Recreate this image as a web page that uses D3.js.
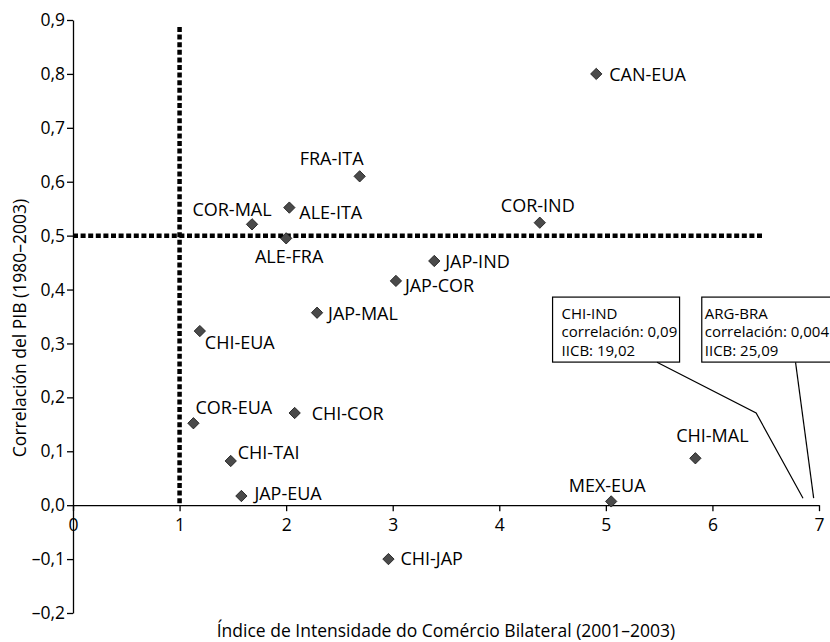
<!DOCTYPE html>
<html>
<head>
<meta charset="utf-8">
<script src="https://cdn.jsdelivr.net/npm/d3@7"></script>
<style>
  html, body { margin: 0; padding: 0; background: #fff; }
  svg { display: block; }
  text { font-family: "Open Sans", "Noto Sans", sans-serif; fill: #000; }
</style>
</head>
<body>
<svg id="chart" width="830" height="642"></svg>
<script>
// ---- data ----
const pairs = ["CAN-EUA","COR-IND","FRA-ITA","ALE-ITA","COR-MAL","ALE-FRA","JAP-IND","JAP-COR","JAP-MAL","CHI-EUA","COR-EUA","CHI-COR","CHI-TAI","JAP-EUA","CHI-JAP","MEX-EUA","CHI-MAL"];
const iicb  = [4.91, 4.38, 2.69, 2.03, 1.68, 2.00, 3.39, 3.03, 2.29, 1.19, 1.13, 2.08, 1.48, 1.58, 2.96, 5.05, 5.84];
const corr  = [0.800, 0.524, 0.610, 0.552, 0.521, 0.495, 0.453, 0.416, 0.357, 0.323, 0.152, 0.171, 0.082, 0.017, -0.100, 0.007, 0.087];
const xTicks = [0, 1, 2, 3, 4, 5, 6, 7];
const yTicks = [-0.2, -0.1, 0.0, 0.1, 0.2, 0.3, 0.4, 0.5, 0.6, 0.7, 0.8, 0.9];
const outPairs = ["CHI-IND", "ARG-BRA"];
const outCorr  = ["0,09", "0,004"];
const outIicb  = ["19,02", "25,09"];
const xTitle = "Índice de Intensidade do Comércio Bilateral (2001–2003)";
const yTitle = "Correlación del PIB (1980–2003)";

// ---- layout ----
const svg = d3.select("#chart");
const x = d3.scaleLinear().domain([0, 7]).range([73, 819]);
const y = d3.scaleLinear().domain([-0.2, 0.9]).range([613, 20]);
const fmt = v => (v < 0 ? "–" : "") + Math.abs(v).toFixed(1).replace(".", ",");

// label placement per pair: [anchor, dx, dy]
const place = {
  "CAN-EUA": ["start", 13, 0], "COR-IND": ["middle", -2, -18], "FRA-ITA": ["middle", -28, -18],
  "ALE-ITA": ["start", 10, 4], "COR-MAL": ["middle", -20, -15], "ALE-FRA": ["middle", 3, 18],
  "JAP-IND": ["start", 11, 0], "JAP-COR": ["start", 9, 4], "JAP-MAL": ["start", 11, 0],
  "CHI-EUA": ["start", 5, 11], "COR-EUA": ["start", 2, -16], "CHI-COR": ["start", 17, 0],
  "CHI-TAI": ["start", 7, -9], "JAP-EUA": ["start", 13, -3], "CHI-JAP": ["start", 12, -1],
  "MEX-EUA": ["middle", -4, -16], "CHI-MAL": ["middle", 17, -23]
};

// axes
const yAxis = d3.axisLeft(y).tickValues(yTicks).tickFormat(fmt).tickSize(6).tickSizeOuter(0);
const gy = svg.append("g").attr("transform", `translate(${x(0)},0)`).call(yAxis);
gy.select(".domain").attr("stroke", "#000").attr("stroke-width", 1.3);
gy.selectAll(".tick line").attr("stroke", "#000").attr("stroke-width", 1.3);
gy.selectAll(".tick text").attr("font-size", 17.5).attr("x", -8).attr("fill", "#000")
  .style("font-family", '"Open Sans", sans-serif');

const xAxis = d3.axisBottom(x).tickValues(xTicks).tickFormat(d3.format("d")).tickSize(6).tickSizeOuter(0);
const gx = svg.append("g").attr("transform", `translate(0,${y(0)})`).call(xAxis);
gx.select(".domain").attr("stroke", "#000").attr("stroke-width", 1.3);
gx.selectAll(".tick line").attr("stroke", "#000").attr("stroke-width", 1.3);
gx.selectAll(".tick text").attr("font-size", 17.5).attr("y", 13).attr("fill", "#000")
  .style("font-family", '"Open Sans", sans-serif');

// reference dotted lines
svg.append("line")
  .attr("x1", x(1)).attr("x2", x(1)).attr("y1", y(0.887)).attr("y2", y(0))
  .attr("stroke", "#000").attr("stroke-width", 4.5).attr("stroke-dasharray", "5,2.6");
svg.append("line")
  .attr("x1", x(0)).attr("x2", x(6.48)).attr("y1", y(0.5)).attr("y2", y(0.5))
  .attr("stroke", "#000").attr("stroke-width", 4.5).attr("stroke-dasharray", "5,2.6");

// points
const pts = pairs.map((p, i) => ({ p, xv: iicb[i], yv: corr[i] }));
const diamond = d3.symbol().type(d3.symbolSquare).size(64);
svg.append("g").selectAll("path").data(pts).join("path")
  .attr("d", diamond)
  .attr("transform", d => `translate(${x(d.xv)},${y(d.yv)}) rotate(45)`)
  .attr("fill", "#4a4a4a").attr("stroke", "#1a1a1a").attr("stroke-width", 0.8);

svg.append("g").selectAll("text").data(pts).join("text")
  .attr("x", d => x(d.xv) + place[d.p][1])
  .attr("y", d => y(d.yv) + place[d.p][2])
  .attr("text-anchor", d => place[d.p][0])
  .attr("dominant-baseline", "central")
  .attr("font-size", 18)
  .text(d => d.p);

// off-scale annotations
const boxes = [
  { left: 4.5, top: 0.386, w: 127, tx: 9, leader: [[5.48, 0.265], [6.41, 0.171], [6.85, 0.013]] },
  { left: 5.9, top: 0.386, w: 140, tx: 3,  leader: [[6.78, 0.265], [6.95, 0.013]] }
];
boxes.forEach((b, i) => {
  const bx = x(b.left), by = y(b.top), bh = 65;
  const g = svg.append("g");
  g.append("rect").attr("x", bx).attr("y", by).attr("width", b.w).attr("height", bh)
    .attr("fill", "#fff").attr("stroke", "#000").attr("stroke-width", 1.2);
  const lines = [outPairs[i], "correlación: " + outCorr[i], "IICB: " + outIicb[i]];
  g.selectAll("text").data(lines).join("text")
    .attr("x", bx + b.tx).attr("y", (d, k) => by + 15.5 + k * 18.5)
    .attr("dominant-baseline", "central").attr("font-size", 15)
    .text(d => d);
  g.append("path")
    .attr("d", d3.line().x(d => x(d[0])).y(d => y(d[1]))(b.leader))
    .attr("fill", "none").attr("stroke", "#000").attr("stroke-width", 1.2);
});

// axis titles
svg.append("text").attr("x", 446).attr("y", 637)
  .attr("text-anchor", "middle")
  .attr("font-size", 17.5).text(xTitle);
svg.append("text").attr("transform", "translate(19,328) rotate(-90)")
  .attr("text-anchor", "middle").attr("dominant-baseline", "central")
  .attr("font-size", 17.5).text(yTitle);
</script>
</body>
</html>
